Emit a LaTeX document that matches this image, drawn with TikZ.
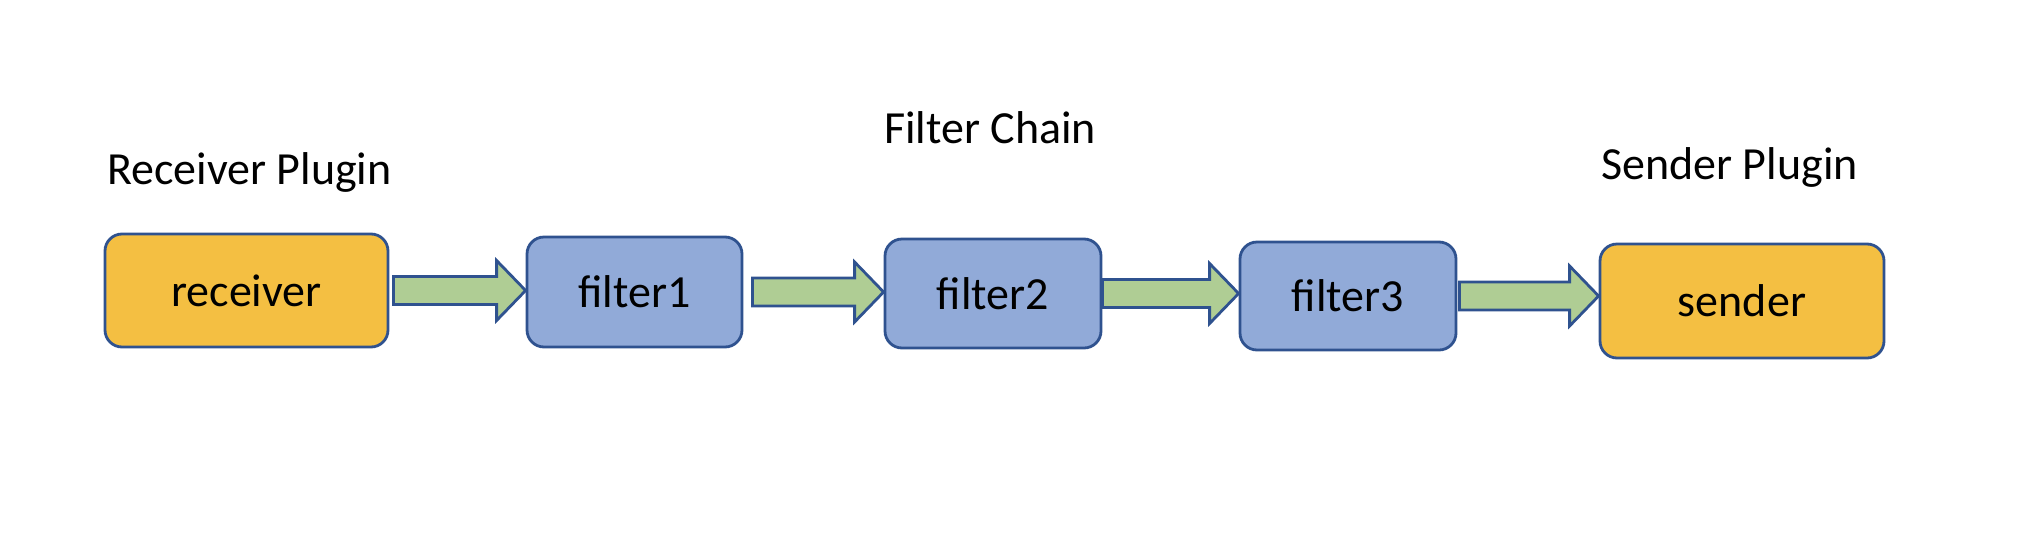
\documentclass[tikz,border=0pt]{standalone}
\usepackage{fontspec}
\setmainfont{Carlito}
\usetikzlibrary{calc}
\definecolor{bordc}{HTML}{2F528F}
\definecolor{orangef}{HTML}{F4BF42}
\definecolor{bluef}{HTML}{91AAD8}
\definecolor{greenf}{HTML}{AFCD94}
\tikzset{
  box/.style={draw=bordc, line width=2.8pt, rounded corners=17pt, inner sep=0pt,
    font=\fontsize{46}{56}\selectfont, text=black},
  plug/.style={box, fill=orangef},
  filt/.style={box, fill=bluef},
  title/.style={font=\fontsize{46}{56}\selectfont, anchor=base west, inner sep=0pt},
  flow/.style={draw=bordc, line width=2.8pt, fill=greenf, line join=miter}
}
\newcommand{\flowarrow}[3]{%
  \draw[flow] let \p1=($(#1.east)+(#3,0)$), \p2=(#2.west) in
    (\x1,\y1+14pt) -- (\x2-29pt,\y1+14pt) -- (\x2-29pt,\y1+30pt) -- (\x2,\y1)
    -- (\x2-29pt,\y1-30pt) -- (\x2-29pt,\y1-14pt) -- (\x1,\y1-14pt) -- cycle;}
\begin{document}
\begin{tikzpicture}[x=1pt,y=-1pt]
\useasboundingbox (0,0) rectangle (2042,536);
\node[plug, minimum width=283pt, minimum height=113pt] (receiver) at (246.5,290.5) {receiver};
\node[filt, minimum width=215pt, minimum height=110pt] (filter1) at (634.5,292) {filter1};
\node[filt, minimum width=216pt, minimum height=109pt] (filter2) at (993,293.5) {filter2};
\node[filt, minimum width=216pt, minimum height=108pt] (filter3) at (1348,296) {filter3};
\node[plug, minimum width=284pt, minimum height=114pt] (sender) at (1742,301) {sender};
\node[title] (rp) at (107,184) {Receiver Plugin};
\node[title] (fc) at (884,143) {Filter Chain};
\node[title] (sp) at (1601,179) {Sender Plugin};
\flowarrow{receiver}{filter1}{4pt}
\flowarrow{filter1}{filter2}{9pt}
\flowarrow{filter2}{filter3}{0pt}
\flowarrow{filter3}{sender}{2pt}
\end{tikzpicture}
\end{document}
